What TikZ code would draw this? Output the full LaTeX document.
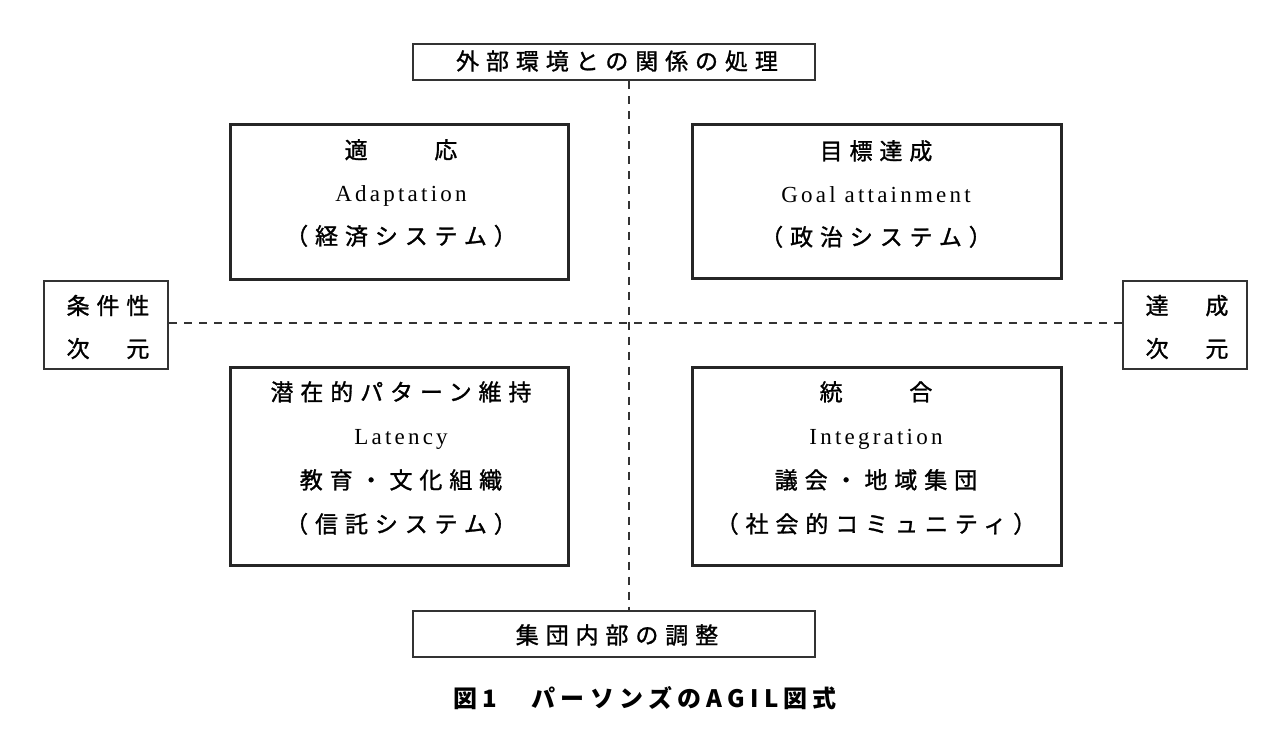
\documentclass[tikz,border=0pt]{standalone}
\usepackage{fontspec}
\setmainfont{Liberation Serif}[LetterSpace=14]
\newfontfamily\jp{Noto Sans CJK JP}[LetterSpace=30,FakeBold=1.2]
\newfontfamily\jpcap{Noto Sans CJK JP}[LetterSpace=22]
\begin{document}
\begin{tikzpicture}[x=1pt,y=-1pt,
  quad/.style={draw=black!85, line width=3pt, inner sep=0pt},
  sidebox/.style={draw=black!80, line width=2pt, inner sep=0pt},
  txt/.style={align=center, inner sep=0pt, font={\fontsize{23}{43}\selectfont}},
  txtw/.style={align=center, inner sep=0pt, font={\fontsize{23}{44}\selectfont}},
  dline/.style={draw=black!80, line width=2pt, dash pattern=on 8pt off 7pt}
]
\useasboundingbox (0,0) rectangle (1287,738);
\fill[white] (0,0) rectangle (1287,738);

% top and bottom boxes
\node[sidebox, minimum width=402pt, minimum height=36pt] (top) at (614,62.5) {};
\node[txt] (toptext) at (617,61) {\jp 外部環境との関係の処理};
\node[sidebox, minimum width=402pt, minimum height=46pt] (bot) at (614,634) {};
\node[txt] (bottext) at (617,635) {\jp 集団内部の調整};

% side boxes
\node[sidebox, minimum width=124pt, minimum height=88pt] (left) at (106,325) {};
\node[txt] (lefttext) at (108,327) {\jp 条件性\\\jp 次　元};
\node[sidebox, minimum width=124pt, minimum height=88pt] (right) at (1185,325) {};
\node[txt] (righttext) at (1187,327) {\jp 達　成\\\jp 次　元};

% quadrant boxes
\node[quad, minimum width=338pt, minimum height=154pt] (A) at (399,202) {};
\node[txt] (Atext) at (401,193) {\jp 適　　応\\Adaptation\\\jp （経済システム）};
\node[quad, minimum width=369pt, minimum height=153pt] (G) at (876.5,201.5) {};
\node[txt] (Gtext) at (876,194) {\jp 目標達成\\Goal attainment\\\jp （政治システム）};
\node[quad, minimum width=338pt, minimum height=198pt] (L) at (399,466) {};
\node[txtw] (Ltext) at (401,458) {\jp 潜在的パターン維持\\Latency\\\jp 教育・文化組織\\\jp （信託システム）};
\node[quad, minimum width=369pt, minimum height=198pt] (I) at (876.5,466) {};
\node[txtw] (Itext) at (876,458) {\jp 統　　合\\Integration\\\jp 議会・地域集団\\\jp （社会的コミュニティ）};

% axes
\coordinate (vx) at (629,0);
\coordinate (hy) at (0,323);
\draw[dline] (top.south -| vx) -- (bot.north -| vx);
\draw[dline] (left.east |- hy) -- (right.west |- hy);

% caption
\node[inner sep=0pt, font={\fontsize{24}{26}\selectfont\bfseries}] (cap) at (645,698) {\jpcap 図1　パーソンズのAGIL図式};
\end{tikzpicture}
\end{document}
